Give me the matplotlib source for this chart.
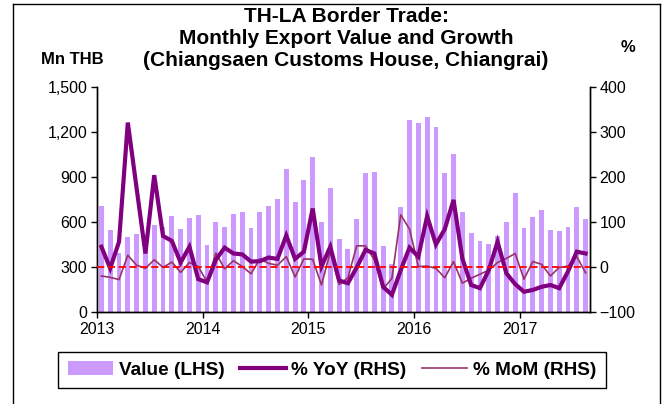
"""TH-LA border trade: monthly export value (bars) and growth (lines)."""

import matplotlib
matplotlib.use("Agg")
import matplotlib.pyplot as plt
import numpy as np
from matplotlib.patches import Patch
from matplotlib.lines import Line2D
from matplotlib.ticker import FuncFormatter

plt.rcParams['font.family'] = ['Liberation Sans', 'DejaVu Sans']

# monthly data, Jan 2013 - Aug 2017
years = ["2013", "2014", "2015", "2016", "2017"]
value = [707, 544, 393, 500, 520, 503, 580, 569, 640, 553, 629, 647,
         449, 602, 567, 651, 667, 560, 664, 704, 756, 951, 733, 878,
         1036, 602, 824, 489, 418, 620, 929, 936, 440, 320, 698, 1280,
         1262, 1300, 1236, 927, 1056, 669, 524, 476, 453, 507, 600, 791,
         560, 633, 682, 544, 540, 564, 700, 618]
yoy = [45, -3, 56, 321, 175, 30, 204, 69, 58, 10, 45, -27,
       -34, 16, 43, 30, 28, 12, 13, 21, 18, 70, 18, 34,
       130, 1, 45, -30, -36, -1, 38, 30, -44, -62, -7, 43,
       23, 113, 50, 84, 149, 19, -40, -47, -7, 56, -14, -38,
       -55, -51, -44, -40, -47, -10, 34, 30]
mom = [-20, -23, -28, 26, 4, -3, 16, -1, 11, -12, 10, 1,
       -33, 31, -4, 14, 1, -15, 18, 8, 4, 23, -22, 18,
       17, -40, 34, -39, -24, 47, 47, 16, -49, -25, 116, 84,
       1, 2, -3, -24, 12, -36, -25, -16, -7, 10, 19, 30,
       -27, 12, 6, -20, -1, 2, 23, -13]

# colours
bar_color = "#CC99FF"
yoy_color = "#800080"
mom_color = "#993366"

fig = plt.figure(figsize=(6.67, 4.04), dpi=100)
ax = fig.add_axes([97/667, 1-312/404, (590-97)/667, (312-87)/404])
ax2 = ax.twinx()

x = np.arange(len(value)) + 0.5
ax.bar(x, value, width=0.55, color=bar_color, zorder=1)
ax2.plot(x, yoy, color=yoy_color, lw=3, solid_joinstyle='miter', zorder=3)
ax2.plot(x, mom, color=mom_color, lw=1.2, zorder=2)
ax2.axhline(0, color="red", ls=(0, (4, 2)), lw=1.3, zorder=4)

ax.set_xlim(0, len(value))
ax.set_ylim(0, 1500)
ax.set_yticks(np.arange(0, 1501, 300))
ax.yaxis.set_major_formatter(FuncFormatter(lambda v, p: "{:,.0f}".format(v)))
ax2.set_ylim(-100, 400)
ax2.set_yticks(np.arange(-100, 401, 100))
ax.set_xticks(np.arange(0, len(value), 12))
ax.set_xticklabels(years)

for a in (ax, ax2):
    a.spines['top'].set_visible(False)
    a.tick_params(direction='out', length=4, width=1, labelsize=11.5, pad=3)
    for s in a.spines.values():
        s.set_linewidth(1)

# titles and axis labels
title_lines = ["TH-LA Border Trade:",
               "Monthly Export Value and Growth",
               "(Chiangsaen Customs House, Chiangrai)"]
for line, ypix in zip(title_lines, [17, 38, 60]):
    fig.text(346/667, 1-ypix/404, line, ha='center', va='center',
             fontsize=15, fontweight='bold')
fig.text(72/667, 1-60/404, "Mn THB", ha='center', va='center', fontsize=12, fontweight='bold')
fig.text(628/667, 1-47/404, "%", ha='center', va='center', fontsize=12, fontweight='bold')

handles = [
    Patch(facecolor=bar_color, label="Value (LHS)"),
    Line2D([], [], color=yoy_color, lw=3, label="% YoY (RHS)"),
    Line2D([], [], color=mom_color, lw=1.2, label="% MoM (RHS)"),
]
leg = fig.legend(handles=handles, loc='center', bbox_to_anchor=(332/667, 1-370/404),
                 ncol=3, frameon=True, fancybox=False, framealpha=1, edgecolor='black',
                 prop={'weight': 'bold', 'size': 13.7}, handlelength=2.4, handletextpad=0.3,
                 columnspacing=0.8, borderpad=0.5)
leg.get_frame().set_linewidth(1)

# outer frame
fig.add_artist(Line2D([13/667, 13/667], [0, 1-4/404], color='black', lw=1))
fig.add_artist(Line2D([13/667, 660/667], [1-4/404, 1-4/404], color='black', lw=1))
fig.add_artist(Line2D([660/667, 660/667], [0, 1-4/404], color='black', lw=1))

plt.savefig("out.png", dpi=100)
